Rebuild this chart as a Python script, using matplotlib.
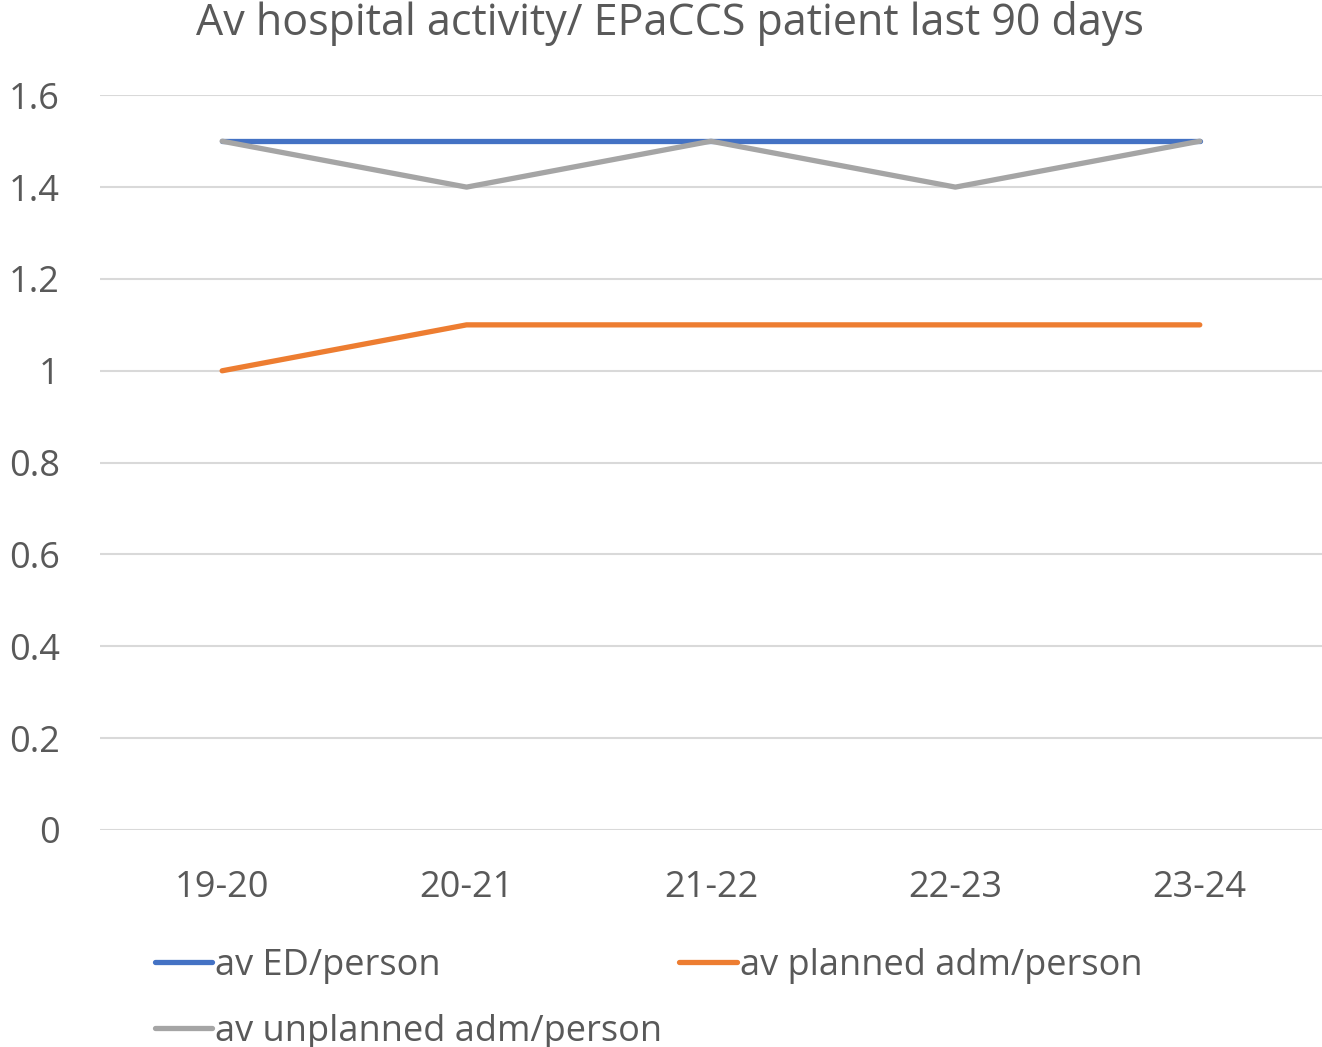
import matplotlib.pyplot as plt

years = ["19-20", "20-21", "21-22", "22-23", "23-24"]
ed = [1.5, 1.5, 1.5, 1.5, 1.5]
planned = [1.0, 1.1, 1.1, 1.1, 1.1]
unplanned = [1.5, 1.4, 1.5, 1.4, 1.5]

plt.rcParams["font.family"] = ["Open Sans", "DejaVu Sans"]
txt = "#595959"

fig = plt.figure(figsize=(13.22, 10.47), dpi=100)
ax = fig.add_axes([0.0756, 0.2073, 0.9244, 0.7017])

x = range(len(years))
l1, = ax.plot(x, ed, color="#4472C4", linewidth=3.8, solid_capstyle="round", label="av ED/person")
l2, = ax.plot(x, planned, color="#ED7D31", linewidth=3.8, solid_capstyle="round", label="av planned adm/person")
l3, = ax.plot(x, unplanned, color="#A5A5A5", linewidth=3.8, solid_capstyle="round", label="av unplanned adm/person")

ax.set_xlim(-0.5, 4.5)
ax.set_ylim(0, 1.6)
ax.set_yticks([0, 0.2, 0.4, 0.6, 0.8, 1.0, 1.2, 1.4, 1.6])
ax.set_yticklabels(["0", "0.2", "0.4", "0.6", "0.8", "1", "1.2", "1.4", "1.6"])
ax.set_xticks(list(x))
ax.set_xticklabels(years)
ax.tick_params(length=0, labelsize=26, colors=txt)
ax.tick_params(axis="x", pad=29)
ax.tick_params(axis="y", pad=29)
ax.grid(axis="y", color="#D9D9D9", linewidth=1.5)
ax.set_axisbelow(True)
for s in ax.spines.values():
    s.set_visible(False)

fig.text(0.507, 0.978, "Av hospital activity/ EPaCCS patient last 90 days",
         ha="center", va="center", fontsize=31, color=txt)

# row-wise order: ED, planned / unplanned
leg = fig.legend([l1, l3, l2], [l1.get_label(), l3.get_label(), l2.get_label()],
                 loc="upper left", bbox_to_anchor=(0.117, 0.095), ncol=2,
                 frameon=False, fontsize=26, labelcolor=txt,
                 handlelength=1.6, handletextpad=0.08, columnspacing=0.47,
                 labelspacing=0.83, borderaxespad=0, borderpad=0)

fig.savefig("out.png", dpi=100)
